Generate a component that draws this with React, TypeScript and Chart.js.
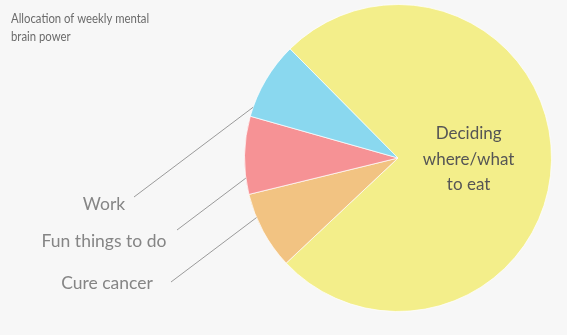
import { useEffect, useRef } from "react";
import { Chart, registerables } from "chart.js";

Chart.register(...registerables);

// Weekly mental effort, in hours
const categories = ["Deciding where/what to eat", "Cure cancer", "Fun things to do", "Work"];
const hours = [92, 10, 10, 10];
const sliceColors = ["#f3ee8a", "#f2c382", "#f69295", "#8ad8ef"];
const titleLines = ["Allocation of weekly mental", "brain power"];
const insideLabelLines = ["Deciding", "where/what", "to eat"];
const outsideLabels = ["", "Cure cancer", "Fun things to do", "Work"];

const FONT = "Lato, 'Open Sans', sans-serif";
const BG = "#f7f7f7";

// where each outside label sits and where its leader line starts
const outsidePlacement: Record<number, { tx: number; ty: number; lx: number; ly: number }> = {
  1: { tx: 107, ty: 283, lx: 171, ly: 282 },
  2: { tx: 104, ty: 241, lx: 177, ly: 230 },
  3: { tx: 104, ty: 204, lx: 134, ly: 197 },
};
const LEADER_ANGLE = (-37 * Math.PI) / 180;

const labelPlugin = {
  id: "pieLabels",
  afterDatasetsDraw(chart: any) {
    const ctx: CanvasRenderingContext2D = chart.ctx;
    const arcs = chart.getDatasetMeta(0).data as any[];
    if (!arcs.length) return;
    const big = arcs[0];
    const cx = big.x;
    const cy = big.y;
    const R = big.outerRadius;

    ctx.save();

    // title, set in a slightly condensed face
    ctx.save();
    ctx.fillStyle = "#6b6b6b";
    ctx.font = `13.5px ${FONT}`;
    ctx.textAlign = "left";
    ctx.textBaseline = "alphabetic";
    ctx.translate(11, 0);
    ctx.scale(0.84, 1);
    titleLines.forEach((t, i) => ctx.fillText(t, 0, 23 + i * 17.5));
    ctx.restore();

    // label inside the largest slice
    const mid = (big.startAngle + big.endAngle) / 2;
    const ix = cx + Math.cos(mid) * R * 0.46;
    const iy = cy + Math.sin(mid) * R * 0.46;
    ctx.fillStyle = "#555555";
    ctx.font = `17px ${FONT}`;
    ctx.textAlign = "center";
    ctx.textBaseline = "middle";
    const lh = 25.5;
    insideLabelLines.forEach((t, i) =>
      ctx.fillText(t, ix, iy + (i - (insideLabelLines.length - 1) / 2) * lh)
    );

    // outside labels with leader lines running up to the pie edge
    const dx = Math.cos(LEADER_ANGLE);
    const dy = Math.sin(LEADER_ANGLE);
    for (let i = 1; i < arcs.length; i++) {
      const p = outsidePlacement[i];
      if (!p) continue;
      const px = p.lx - cx;
      const py = p.ly - cy;
      const b = px * dx + py * dy;
      const c = px * px + py * py - R * R;
      const disc = b * b - c;
      if (disc > 0) {
        const t = -b - Math.sqrt(disc);
        ctx.strokeStyle = "#9a9a9a";
        ctx.lineWidth = 1;
        ctx.beginPath();
        ctx.moveTo(p.lx, p.ly);
        ctx.lineTo(p.lx + dx * t, p.ly + dy * t);
        ctx.stroke();
      }
      ctx.fillStyle = "#858585";
      ctx.font = `17.5px ${FONT}`;
      ctx.textAlign = "center";
      ctx.textBaseline = "middle";
      ctx.fillText(outsideLabels[i], p.tx, p.ty);
    }

    ctx.restore();
  },
};

export default function App() {
  const canvasRef = useRef<HTMLCanvasElement | null>(null);

  useEffect(() => {
    document.body.style.margin = "0";
    document.body.style.background = BG;
    const canvas = canvasRef.current;
    if (!canvas) return;
    const chart = new Chart(canvas, {
      type: "pie",
      data: {
        labels: categories,
        datasets: [
          {
            data: hours,
            backgroundColor: sliceColors,
            borderColor: "rgba(255,255,255,0.7)",
            borderWidth: 1,
          },
        ],
      },
      options: {
        responsive: false,
        animation: false,
        rotation: -44.7,
        layout: { padding: { left: 244, right: 15, top: 4, bottom: 23 } },
        plugins: {
          legend: { display: false },
          tooltip: { enabled: false },
          title: { display: false },
        },
      },
      plugins: [labelPlugin],
    });
    return () => chart.destroy();
  }, []);

  return (
    <div style={{ width: 567, height: 335, background: BG }}>
      <canvas ref={canvasRef} width={567} height={335} style={{ display: "block" }} />
    </div>
  );
}
